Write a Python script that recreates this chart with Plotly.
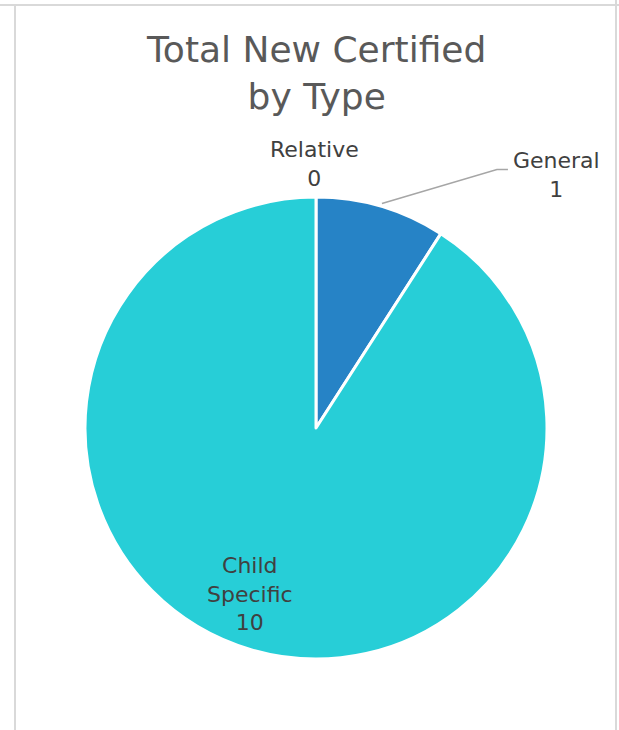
import math
import plotly.graph_objects as go

categories = ["Relative", "General", "Child Specific"]
values = [0, 1, 10]
colors = ["#1CADE4", "#2683C6", "#27CED7"]
title_text = "Total New Certified<br>by Type"

W, H = 619, 730
cx, cy, R = 316, 428, 231  # pie centre / radius in px (layout)

fig = go.Figure(go.Pie(
    labels=categories, values=values, sort=False, direction="clockwise",
    rotation=0, marker=dict(colors=colors, line=dict(color="white", width=3)),
    textinfo="none", hoverinfo="label+value", showlegend=False,
    domain=dict(x=[(cx - R) / W, (cx + R) / W], y=[1 - (cy + R) / H, 1 - (cy - R) / H]),
))

font_lbl = dict(family="Century Gothic, DejaVu Sans, sans-serif", size=22, color="#404040")
total = sum(values)
anns = []
shapes = []
start = 0.0
for cat, v in zip(categories, values):
    frac = v / total
    mid = (start + frac / 2) * 2 * math.pi  # angle clockwise from 12 o'clock
    start += frac
    sx, sy = math.sin(mid), -math.cos(mid)
    txt = cat.replace(" ", "<br>") + "<br>" + str(v)
    if v == 0:
        px, py = cx + sx * (R + 30) - 2, cy + sy * (R + 30) - 3
        anns.append(dict(x=px / W, y=1 - py / H, xref="paper", yref="paper", text=txt,
                         showarrow=False, font=font_lbl, xanchor="center", yanchor="middle"))
    elif frac < 0.5:
        x0, y0 = cx + sx * (R + 3), cy + sy * (R + 3)
        x1, y1 = x0 + 115, y0 - 34
        x2 = x1 + 11
        shapes.append(dict(type="path", xref="paper", yref="paper",
                           path=f"M {x0/W},{1-y0/H} L {x1/W},{1-y1/H} L {x2/W},{1-y1/H}",
                           line=dict(color="#A6A6A6", width=1.5)))
        anns.append(dict(x=(x2 + 3) / W, y=1 - (y1 + 6) / H, xref="paper", yref="paper", text=txt,
                         showarrow=False, font=font_lbl, xanchor="left", yanchor="middle"))
    else:
        px, py = cx + sx * R * 0.78 - 15, cy + sy * R * 0.78 - 7
        anns.append(dict(x=px / W, y=1 - py / H, xref="paper", yref="paper", text=txt,
                         showarrow=False, font=font_lbl, xanchor="center", yanchor="middle"))

# title as annotation
anns.append(dict(x=316 / W, y=1 - 73 / H, xref="paper", yref="paper", text=title_text,
                 showarrow=False, xanchor="center", yanchor="middle",
                 font=dict(family="Century Gothic, DejaVu Sans, sans-serif", size=36, color="#595959")))

# chart frame
border = dict(color="#D9D9D9", width=2)
shapes += [
    dict(type="line", xref="paper", yref="paper", x0=0, x1=1, y0=1 - 5 / H, y1=1 - 5 / H, line=border),
    dict(type="line", xref="paper", yref="paper", x0=15 / W, x1=15 / W, y0=0, y1=1 - 6 / H, line=border),
    dict(type="line", xref="paper", yref="paper", x0=616 / W, x1=616 / W, y0=0, y1=1, line=border),
]

fig.update_layout(
    width=W, height=H, margin=dict(l=0, r=0, t=0, b=0),
    paper_bgcolor="white", plot_bgcolor="white",
    annotations=anns, shapes=shapes,
)
fig.write_html("out.html", config={"displayModeBar": False},
               post_script="document.body.style.margin='0';document.body.style.overflow='hidden';")
